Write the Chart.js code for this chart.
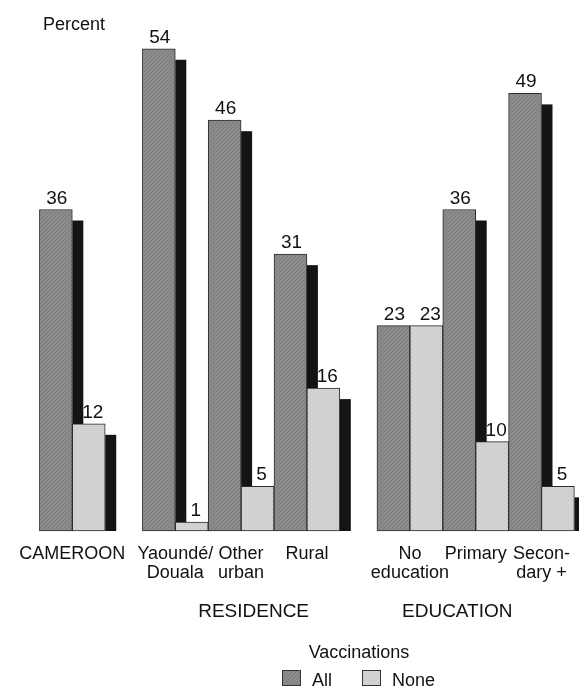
<!DOCTYPE html>
<html>
<head>
<meta charset="utf-8">
<script src="https://cdn.jsdelivr.net/npm/chart.js@4"></script>
<style>
  html, body { margin: 0; padding: 0; background: #fff; }
  canvas { display: block; }
</style>
</head>
<body>
<canvas id="chart" width="579" height="690"></canvas>
<script>
// Vaccination coverage by residence and education (percent)
const categories = [['CAMEROON'], ['Yaoundé/', 'Douala'], ['Other', 'urban'], ['Rural'], ['No', 'education'], ['Primary'], ['Secon-', 'dary +']];
const groupOf = [0, 1, 1, 1, 2, 2, 2];
const groupNames = ['', 'RESIDENCE', 'EDUCATION'];
const allVaccinations = [36, 54, 46, 31, 23, 36, 49];
const noVaccinations = [12, 1, 5, 16, 23, 10, 5];
const seriesNames = ['All', 'None'];
const legendTitle = 'Vaccinations';
const axisTitle = 'Percent';

// Layout
const FONT = "'Liberation Sans', Arial, Helvetica, sans-serif";
const GROUP_GAP = 0.565;          // extra space between groups, in category widths
const GROUP_LABEL_SHIFT = [0, 0.19, -0.28];
const X_MIN = -1.099, X_MAX = 7.70;
const BASE_PX = 531;              // bottom of the plot area
const Y_MAX = 59.46;
const DEPTH = 11;                 // depth of the dark extrusion beside each bar
const INK = '#111';

// category centres along a linear axis, with a gap between groups
const slotX = categories.map((_, i) => i + GROUP_GAP * groupOf[i]);

function texture(base, ink, kind) {
  const s = 4;
  const c = document.createElement('canvas');
  c.width = c.height = s;
  const g = c.getContext('2d');
  g.fillStyle = base;
  g.fillRect(0, 0, s, s);
  g.fillStyle = ink;
  if (kind === 'hatch') {
    for (let i = 0; i < s; i++) g.fillRect(i, s - 1 - i, 1, 1);
  } else {
    g.fillRect(0, 0, 1, 1);
    g.fillRect(2, 2, 1, 1);
  }
  return c.getContext('2d').createPattern(c, 'repeat');
}
const fillAll = texture('#8c8c8c', '#7a7a7a', 'hatch');
const fillNone = texture('#d3d3d3', '#c2c2c2', 'dots');
const fills = [fillAll, fillNone];
const labelShift = [1, 4];

const extrude = {
  id: 'extrude',
  beforeDatasetsDraw(chart) {
    const ctx = chart.ctx;
    ctx.save();
    ctx.fillStyle = '#141414';
    chart.data.datasets.forEach((ds, di) => {
      chart.getDatasetMeta(di).data.forEach(bar => {
        const p = bar.getProps(['x', 'y', 'base', 'width'], true);
        const top = p.y + DEPTH;
        if (top < p.base) ctx.fillRect(p.x + p.width / 2, top, DEPTH, p.base - top);
      });
    });
    ctx.restore();
  },
  afterDatasetsDraw(chart) {
    const ctx = chart.ctx;
    ctx.save();
    ctx.fillStyle = INK;
    ctx.font = '19px ' + FONT;
    ctx.textAlign = 'center';
    ctx.textBaseline = 'alphabetic';
    chart.data.datasets.forEach((ds, di) => {
      chart.getDatasetMeta(di).data.forEach((bar, i) => {
        const p = bar.getProps(['x', 'y'], true);
        ctx.fillText(String(ds.data[i].y), p.x + labelShift[di], p.y - 6);
      });
    });
    ctx.restore();
  },
  afterDraw(chart) {
    const ctx = chart.ctx;
    const xs = chart.scales.x;
    ctx.save();
    ctx.fillStyle = INK;
    ctx.font = '18px ' + FONT;
    ctx.textBaseline = 'alphabetic';

    // axis title
    ctx.textAlign = 'left';
    ctx.fillText(axisTitle, 43, 30);

    // group captions
    ctx.font = '19px ' + FONT;
    ctx.textAlign = 'center';
    groupNames.forEach((name, g) => {
      if (!name) return;
      const members = slotX.filter((_, i) => groupOf[i] === g);
      const mid = (members[0] + members[members.length - 1]) / 2 + GROUP_LABEL_SHIFT[g];
      ctx.fillText(name, xs.getPixelForValue(mid), 617);
    });

    // legend
    ctx.font = '18px ' + FONT;
    const cx = 359;
    ctx.fillText(legendTitle, cx, 658);
    const box = 19, boxH = 16, gap = 11, spacing = 30;
    const widths = seriesNames.map(n => ctx.measureText(n).width);
    const total = widths.reduce((a, w) => a + box + gap + w, 0) + spacing * (seriesNames.length - 1);
    let x = Math.round(cx - total / 2);
    ctx.textAlign = 'left';
    seriesNames.forEach((n, i) => {
      ctx.fillStyle = fills[i];
      ctx.fillRect(x, 670, box, boxH);
      ctx.strokeStyle = '#333';
      ctx.lineWidth = 1;
      ctx.strokeRect(x + 0.5, 670.5, box - 1, boxH - 1);
      ctx.fillStyle = INK;
      ctx.fillText(n, x + box + gap, 686);
      x += box + gap + widths[i] + spacing;
    });
    ctx.restore();
  }
};

new Chart(document.getElementById('chart'), {
  type: 'bar',
  data: {
    datasets: [
      {
        label: seriesNames[0],
        data: slotX.map((x, i) => ({ x, y: allVaccinations[i] })),
        backgroundColor: fillAll
      },
      {
        label: seriesNames[1],
        data: slotX.map((x, i) => ({ x, y: noVaccinations[i] })),
        backgroundColor: fillNone
      }
    ]
  },
  options: {
    responsive: false,
    animation: false,
    layout: { padding: 0 },
    plugins: { legend: { display: false }, tooltip: { enabled: false } },
    datasets: {
      bar: {
        categoryPercentage: 1,
        barPercentage: 1,
        borderWidth: 1,
        borderColor: '#2b2b2b',
        borderSkipped: false,
        clip: false
      }
    },
    scales: {
      x: {
        type: 'linear',
        min: X_MIN,
        max: X_MAX,
        offset: false,
        grid: { display: false, drawTicks: false },
        border: { display: false },
        afterBuildTicks: s => { s.ticks = slotX.map(v => ({ value: v })); },
        afterFit: s => {
          s.height = 690 - BASE_PX;
          s.paddingLeft = 0;
          s.paddingRight = 0;
        },
        ticks: {
          autoSkip: false,
          maxRotation: 0,
          minRotation: 0,
          padding: 14,
          color: INK,
          font: { family: FONT, size: 18, lineHeight: 1.02 },
          callback: (v, i) => categories[i]
        }
      },
      y: { display: false, min: 0, max: Y_MAX }
    }
  },
  plugins: [extrude]
});
</script>
</body>
</html>
